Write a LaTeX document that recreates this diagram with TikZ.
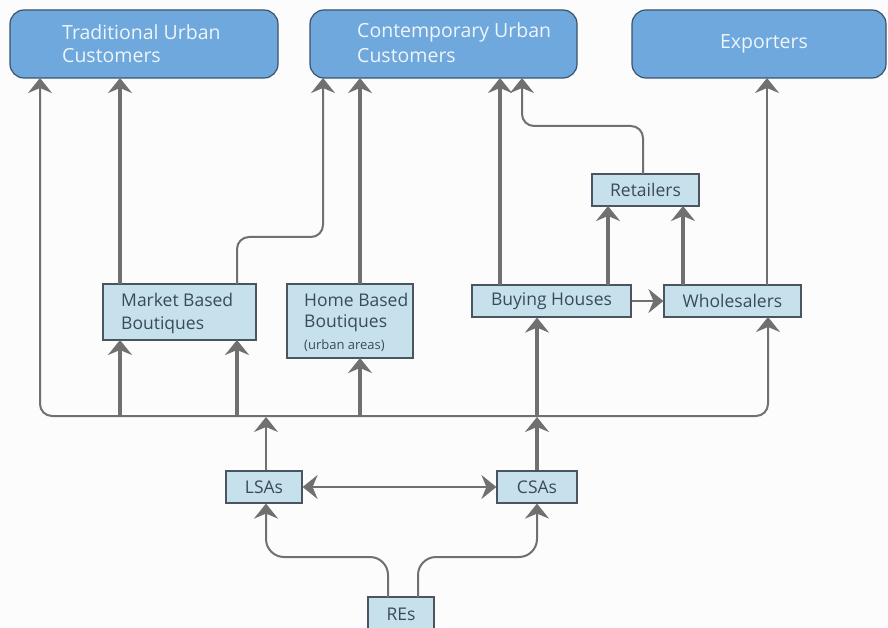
\documentclass[tikz,border=0pt]{standalone}
\usepackage{fontspec}
\setmainfont{Open Sans}
\usetikzlibrary{arrows.meta}
\definecolor{topfill}{HTML}{6FA8DC}
\definecolor{topdraw}{HTML}{3A536E}
\definecolor{boxfill}{HTML}{C6E1EB}
\definecolor{boxdraw}{HTML}{4A5560}
\definecolor{txt}{HTML}{3A4A5C}
\definecolor{ln}{HTML}{707070}
\definecolor{bg}{HTML}{FCFCFC}
\tikzset{
  tip/.tip={Stealth[length=15pt,width=24pt,inset=5pt]},
  topbox/.style={draw=topdraw, fill=topfill, line width=1.2pt, rounded corners=14pt},
  lbox/.style={draw=boxdraw, fill=boxfill, line width=1.2pt, text=txt},
  tk/.style={draw=ln, line width=3.5pt, -tip},
  tn/.style={draw=ln, line width=2pt, rounded corners=12pt, -tip},
  bfont/.style={font=\fontsize{17.5}{20}\selectfont},
  lbl/.style={bfont, text=txt, anchor=west, inner sep=0pt},
  tlbl/.style={font=\fontsize{19.5}{22}\selectfont, text=white!88!topfill, anchor=west, inner sep=0pt},
}
\begin{document}
\begin{tikzpicture}[x=1pt,y=-1pt]
\useasboundingbox (0,0) rectangle (888,628);
\fill[bg] (0,0) rectangle (888,628);
% top boxes
\path[topbox] (10,10) rectangle (278,78);
\node[tlbl] (tradA) at (62,32) {Traditional Urban};
\node[tlbl] (tradB) at (62,56) {Customers};
\path[topbox] (310,10) rectangle (577,78);
\node[tlbl] (contA) at (357,32) {Contemporary Urban};
\node[tlbl] (contB) at (357,56) {Customers};
\path[topbox] (632,10) rectangle (886,78);
\node[tlbl, anchor=center] (expA) at (764,44) {Exporters};
% light boxes
\path[lbox] (103,284) rectangle (256,340);
\node[lbl] (mbbA) at (121,300) {Market Based};
\node[lbl] (mbbB) at (121,325) {Boutiques};
\path[lbox] (287,284) rectangle (413,358);
\node[lbl] (hbbA) at (304,300) {Home Based};
\node[lbl] (hbbB) at (304,323) {Boutiques};
\node[lbl, font=\fontsize{13}{15}\selectfont] (hbbC) at (304,346) {(urban areas)};
\node[lbox, bfont, minimum width=159pt, minimum height=32pt, inner sep=0pt] (bh) at (551.5,301) {Buying Houses};
\node[lbox, bfont, minimum width=137pt, minimum height=32pt, inner sep=0pt] (wh) at (732.5,301) {Wholesalers};
\node[lbox, bfont, minimum width=107pt, minimum height=32pt, inner sep=0pt] (ret) at (645.5,190) {Retailers};
\node[lbox, bfont, minimum width=76pt, minimum height=32pt, inner sep=0pt] (lsa) at (264,487) {LSAs};
\node[lbox, bfont, minimum width=80pt, minimum height=32pt, inner sep=0pt] (csa) at (537,487) {CSAs};
\node[lbox, bfont, minimum width=66pt, minimum height=34pt, inner sep=0pt] (res) at (401,614) {REs};
% bus line
\draw[tn] (537,416) -- (40,416) -- (40,78);
\draw[tn] (537,416) -- (768,416) -- (768,317);
% up from bus
\draw[tk] (120,416) -- (120,340);
\draw[tk] (237,416) -- (237,340);
\draw[tk] (360,416) -- (360,358);
\draw[tk] (537,416) -- (bh.south -| 537,0);
% LSA / CSA to bus
\draw[tn] (lsa.north -| 266,0) -- (266,417);
\draw[tk] (csa.north) -- (537,417);
\draw[draw=ln, line width=2pt, tip-tip] (lsa.east) -- (csa.west);
% REs
\draw[tn, rounded corners=18pt] (388,597) -- (388,557) -- (266,557) -- (lsa.south -| 266,0);
\draw[tn, rounded corners=18pt] (418,597) -- (418,557) -- (537,557) -- (csa.south);
% MBB up
\draw[tk] (120,284) -- (120,78);
\draw[tn] (237,284) -- (237,237) -- (323,237) -- (323,78);
% HBB up
\draw[tk] (360,284) -- (360,78);
% Buying houses up
\draw[tk] (500,285) -- (500,78);
\draw[tk] (608,285) -- (608,206);
\draw[tn] (bh.east) -- (wh.west);
% Wholesalers up
\draw[tk] (683,285) -- (683,206);
\draw[tn] (767,285) -- (767,78);
% Retailers up
\draw[tn] (643,174) -- (643,126) -- (522,126) -- (522,78);
\end{tikzpicture}
\end{document}
